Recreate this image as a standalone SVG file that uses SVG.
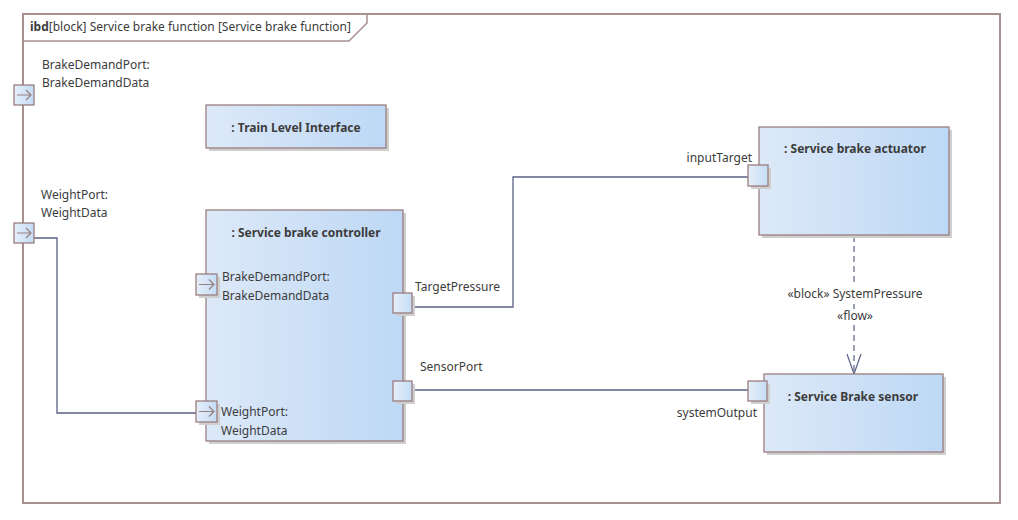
<svg xmlns="http://www.w3.org/2000/svg" width="1018" height="520" viewBox="0 0 1018 520">
<style>
text{font-family:"Noto Sans","Open Sans",sans-serif;font-size:12px;fill:#3c3c3c}
.b{font-weight:bold}
.box{fill:url(#g);stroke:#9a7f80;stroke-width:1.3}
.sh{fill:#cfcfcf}
.port{fill:url(#gp);stroke:#9a7f80;stroke-width:1.3}
.arr{fill:none;stroke:#9a7f80;stroke-width:1.2}
.con{fill:none;stroke:#5a6186;stroke-width:1.3}
</style>
<defs>
<linearGradient id="g" x1="0" y1="0" x2="1" y2="0"><stop offset="0" stop-color="#dde9f8"/><stop offset="1" stop-color="#bdd8f5"/></linearGradient>
<linearGradient id="gp" x1="0" y1="0" x2="1" y2="0"><stop offset="0" stop-color="#e6effa"/><stop offset="1" stop-color="#c4dcf5"/></linearGradient>
</defs>
<rect width="1018" height="520" fill="#fff"/>
<g id="frame">
<rect x="23" y="14" width="977" height="489" fill="none" stroke="#a89090" stroke-width="2"/>
<path d="M23,41 H349 L367,23 V14" fill="none" stroke="#a89090" stroke-width="1.5"/>
<text x="30" y="31"><tspan class="b">ibd</tspan>[block] Service brake function [Service brake function]</text>
</g>
<g id="connectors">
<path class="con" d="M412,307 H513 V177 H749"/>
<path class="con" d="M412,390 H749"/>
<path class="con" d="M34,238 H57 V413 H197"/>
<path d="M854,236 V285 M854,304 V309 M854,325 V372" fill="none" stroke="#5a6186" stroke-width="1.2" stroke-dasharray="6,4"/>
<path d="M847,354 L854,374 L861,354" fill="none" stroke="#5a6186" stroke-width="1.2"/>
<text x="855" y="298" text-anchor="middle">«block» SystemPressure</text>
<text x="855" y="320" text-anchor="middle">«flow»</text>
</g>
<g id="frame-port-brake">
<rect class="port" x="14" y="85" width="20" height="20"/>
<path class="arr" d="M17,95 H31 M26,90 L31,95 L26,100"/>
<text x="42" y="69">BrakeDemandPort:</text>
<text x="42" y="87">BrakeDemandData</text>
</g>
<g id="frame-port-weight">
<rect class="port" x="14" y="223" width="20" height="20"/>
<path class="arr" d="M17,233 H31 M26,228 L31,233 L26,238"/>
<text x="41" y="199">WeightPort:</text>
<text x="41" y="217">WeightData</text>
</g>
<g id="train-level-interface">
<rect class="sh" x="209" y="108" width="180" height="43"/>
<rect class="box" x="206" y="105" width="180" height="43"/>
<text class="b" x="296" y="132" text-anchor="middle">: Train Level Interface</text>
</g>
<g id="controller">
<rect class="sh" x="209" y="213" width="197" height="231"/>
<rect class="box" x="206" y="210" width="197" height="231"/>
<text class="b" x="306" y="237" text-anchor="middle">: Service brake controller</text>
<rect class="sh" x="199" y="277" width="21" height="21"/>
<rect class="port" x="196" y="274" width="21" height="21"/>
<path class="arr" d="M199,284.5 H214 M209,279.5 L214,284.5 L209,289.5"/>
<text x="222" y="281">BrakeDemandPort:</text>
<text x="222" y="300">BrakeDemandData</text>
<rect class="sh" x="199" y="404" width="21" height="21"/>
<rect class="port" x="196" y="401" width="21" height="21"/>
<path class="arr" d="M199,411.5 H214 M209,406.5 L214,411.5 L209,416.5"/>
<text x="221" y="416">WeightPort:</text>
<text x="221" y="435">WeightData</text>
<rect class="sh" x="396" y="296" width="19" height="20"/>
<rect class="port" x="393" y="293" width="19" height="20"/>
<text x="415" y="291">TargetPressure</text>
<rect class="sh" x="396" y="384" width="19" height="20"/>
<rect class="port" x="393" y="381" width="19" height="20"/>
<text x="420" y="371">SensorPort</text>
</g>
<g id="actuator">
<rect class="sh" x="762" y="130" width="190" height="108"/>
<rect class="box" x="759" y="127" width="190" height="108"/>
<text class="b" x="855" y="153" text-anchor="middle">: Service brake actuator</text>
<rect class="sh" x="751" y="168" width="20" height="21"/>
<rect class="port" x="748" y="165" width="20" height="21"/>
<text x="752" y="162" text-anchor="end">inputTarget</text>
</g>
<g id="sensor">
<rect class="sh" x="767" y="377" width="179" height="78"/>
<rect class="box" x="764" y="374" width="179" height="78"/>
<text class="b" x="853" y="401" text-anchor="middle">: Service Brake sensor</text>
<rect class="sh" x="751" y="384" width="19" height="20"/>
<rect class="port" x="748" y="381" width="19" height="20"/>
<text x="757" y="417" text-anchor="end">systemOutput</text>
</g>
</svg>
